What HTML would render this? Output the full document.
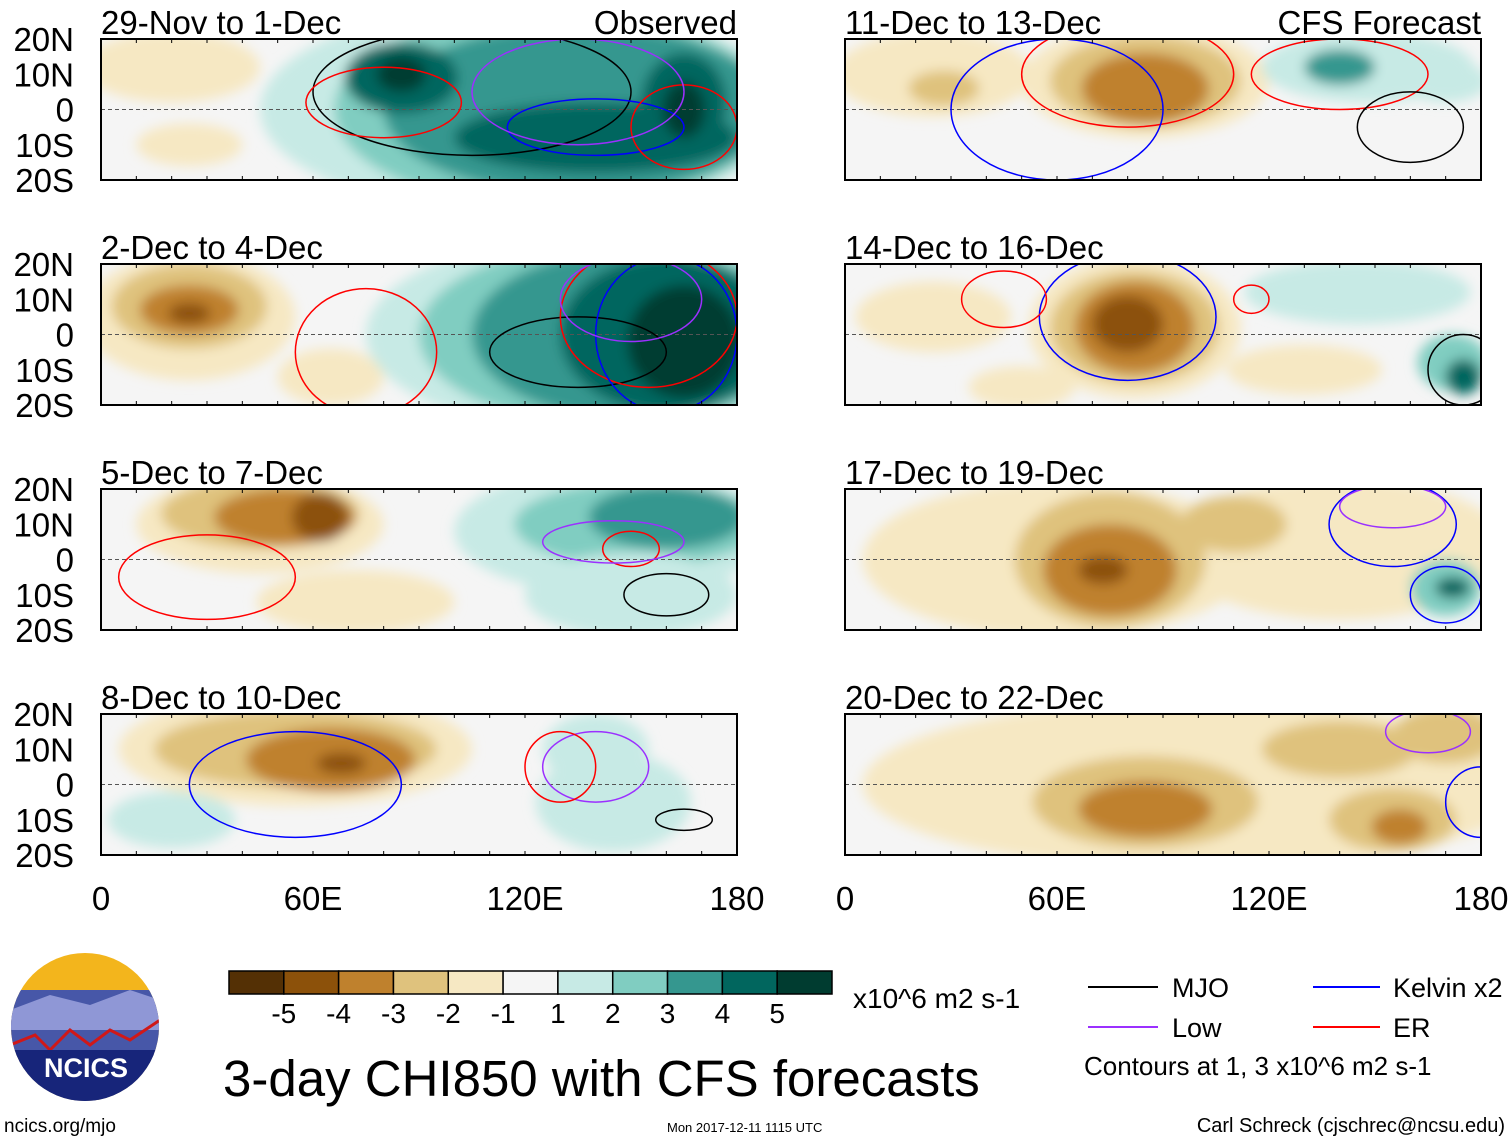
<!DOCTYPE html>
<html><head><meta charset="utf-8"><style>
html,body{margin:0;padding:0;background:#fff;}
body{width:1510px;height:1142px;overflow:hidden;font-family:"Liberation Sans",sans-serif;}
</style></head><body>
<svg id="fig" width="1510" height="1142" xmlns="http://www.w3.org/2000/svg" font-family="Liberation Sans, sans-serif">
<defs><filter id="blur" x="-20%" y="-20%" width="140%" height="140%"><feGaussianBlur stdDeviation="6"/></filter></defs>
</svg>
<script>
const levelColors = ["#543005","#8c510a","#bf812d","#dfc27d","#f6e8c3","#f5f5f5","#c7eae5","#80cdc1","#35978f","#01665e","#003c30"];
const levelLabels = ["-5","-4","-3","-2","-1","1","2","3","4","5"];
const panelTitles = ["29-Nov to 1-Dec","2-Dec to 4-Dec","5-Dec to 7-Dec","8-Dec to 10-Dec","11-Dec to 13-Dec","14-Dec to 16-Dec","17-Dec to 19-Dec","20-Dec to 22-Dec"];
const latTicks = [20,10,0,-10,-20];
const latLabels = ["20N","10N","0","10S","20S"];
const lonTicks = [0,60,120,180];
const lonLabels = ["0","60E","120E","180"];
// blobs: [lon, lat, rlon, rlat, levelIndex]
const blobs0 = [[20,12,25,10,4],[25,-10,15,6,4],[120,0,75,30,6],[128,0,62,28,7],[135,0,55,24,8],[85,9,16,10,9],[140,-8,40,10,9],[165,2,12,14,9],[165,0,6,8,10],[85,10,7,5,10]];
const blobs1 = [[25,5,30,18,4],[25,8,22,12,3],[25,7,14,7,2],[25,6,6,3,1],[65,-12,15,8,4],[140,0,65,28,6],[145,0,55,26,7],[150,0,45,24,8],[160,0,30,22,9],[165,-2,16,16,10]];
const blobs2 = [[45,10,35,14,4],[45,13,28,10,3],[52,12,20,8,2],[62,12,8,7,1],[72,-12,28,9,4],[145,8,45,18,6],[152,10,35,12,7],[160,12,22,9,8],[150,-10,30,12,6]];
const blobs3 = [[55,10,50,16,4],[55,10,40,11,3],[65,7,24,9,2],[68,6,7,3,1],[20,-10,18,8,6],[145,-5,22,14,6],[140,10,15,10,6]];
const blobs4 = [[25,10,28,12,4],[28,6,10,5,3],[85,8,35,16,4],[85,8,27,13,3],[85,6,18,10,2],[148,12,30,10,6],[140,12,10,5,8],[170,8,12,6,6]];
const blobs5 = [[25,5,22,10,4],[50,-15,15,6,4],[82,2,30,20,4],[82,2,24,16,3],[82,2,17,13,2],[80,3,10,8,1],[145,12,32,9,6],[172,-8,10,8,7],[175,-12,5,5,9],[130,-10,22,7,4]];
const blobs6 = [[60,0,55,22,4],[140,3,48,20,4],[75,0,27,19,3],[75,-3,19,13,2],[73,-3,7,4,1],[110,10,15,8,3],[170,-8,10,8,7],[172,-8,5,3,9]];
const blobs7 = [[100,0,95,24,4],[85,-5,32,13,3],[85,-7,19,8,2],[155,-10,18,9,3],[157,-12,8,5,2],[170,14,15,8,3],[140,10,22,8,3]];
const panelBlobs = [blobs0,blobs1,blobs2,blobs3,blobs4,blobs5,blobs6,blobs7];
// contours: [lon, lat, rlon, rlat, type]
const contourColors = {mjo:"#000",kelvin:"#0000ff",low:"#9b30ff",er:"#ff0000"};
const panelContours = [
 [[105,5,45,18,"mjo"],[80,2,22,10,"er"],[140,-5,25,8,"kelvin"],[165,-5,15,12,"er"],[135,5,30,15,"low"]],
 [[75,-5,20,18,"er"],[135,-5,25,10,"mjo"],[155,5,25,20,"er"],[160,0,20,22,"kelvin"],[150,10,20,12,"low"]],
 [[30,-5,25,12,"er"],[160,-10,12,6,"mjo"],[150,3,8,5,"er"],[145,5,20,6,"low"]],
 [[55,0,30,15,"kelvin"],[140,5,15,10,"low"],[130,5,10,10,"er"],[165,-10,8,3,"mjo"]],
 [[80,10,30,15,"er"],[140,10,25,10,"er"],[60,0,30,20,"kelvin"],[160,-5,15,10,"mjo"]],
 [[80,5,25,18,"kelvin"],[45,10,12,8,"er"],[115,10,5,4,"er"],[175,-10,10,10,"mjo"]],
 [[155,10,18,12,"kelvin"],[155,15,15,6,"low"],[170,-10,10,8,"kelvin"]],
 [[165,15,12,6,"low"],[180,-5,10,10,"kelvin"]]
];
const NS="http://www.w3.org/2000/svg";
const svg=document.getElementById('fig');
function mk(tag,attrs,parent){const e=document.createElementNS(NS,tag);for(const k in attrs)e.setAttribute(k,attrs[k]);(parent||svg).appendChild(e);return e;}
const panelW=636, panelH=141;
const lefts=[101,845], tops=[39,264,489,714];
panelTitles.forEach((t,i)=>{
  const col=Math.floor(i/4), row=i%4;
  const x0=lefts[col], y0=tops[row];
  const xs=lon=>x0+lon/180*panelW;
  const ys=lat=>y0+(20-lat)/40*panelH;
  const g=mk('g',{});
  
  
  const cp=mk('clipPath',{id:'c'+i},g);
  mk('rect',{x:x0,y:y0,width:panelW,height:panelH},cp);
  const inner=mk('g',{'clip-path':'url(#c'+i+')'},g);
  mk('rect',{x:x0,y:y0,width:panelW,height:panelH,fill:levelColors[5]},inner);
  const bg=mk('g',{filter:'url(#blur)'},inner);
  panelBlobs[i].forEach(b=>{
    const e=mk('ellipse',{cx:xs(b[0]),cy:ys(b[1]),rx:b[2]/180*panelW,ry:b[3]/40*panelH,fill:levelColors[b[4]]},bg);
    
    
  });
  mk('line',{x1:x0,x2:x0+panelW,y1:ys(0),y2:ys(0),stroke:'#555','stroke-dasharray':'4,3','stroke-width':1},inner);
  panelContours[i].forEach(c=>{
    const e=mk('ellipse',{cx:xs(c[0]),cy:ys(c[1]),rx:c[2]/180*panelW,ry:c[3]/40*panelH,fill:'none',stroke:contourColors[c[4]],'stroke-width':1.5},inner);
    
    
  });
  mk('rect',{x:x0,y:y0,width:panelW,height:panelH,fill:'none',stroke:'#000','stroke-width':2},g);
  for(let l=0;l<=180;l+=10){mk('line',{x1:xs(l),x2:xs(l),y1:y0,y2:y0+4,stroke:'#000'},g);mk('line',{x1:xs(l),x2:xs(l),y1:y0+panelH,y2:y0+panelH-4,stroke:'#000'},g);}
  const tt=mk('text',{x:x0,y:y0-5,'font-size':33,fill:'#000'},g);tt.textContent=t;
  
  
  if(i===0||i===4){const s=mk('text',{x:x0+panelW,y:y0-5,'font-size':33,'text-anchor':'end'},g);s.textContent=i===0?'Observed':'CFS Forecast';
    
    }
  if(col===0){latTicks.forEach((la,k)=>{const tx=mk('text',{x:74,y:ys(la)+12,'font-size':33,'text-anchor':'end'},g);tx.textContent=latLabels[k];
    
    });}
  if(row===3){lonTicks.forEach((lo,k)=>{const tx=mk('text',{x:xs(lo),y:910,'font-size':33,'text-anchor':'middle'},g);tx.textContent=lonLabels[k];
    
    });}
});
// colorbar
const cb=mk('g',{});


const cbx=229,cbw=603,cby=971,cbh=23,bw=cbw/levelColors.length;
levelColors.forEach((c,k)=>{mk('rect',{x:cbx+k*bw,y:cby,width:bw,height:cbh,fill:c,stroke:'#000','stroke-width':1.5},cb);});
levelLabels.forEach((l,k)=>{const t=mk('text',{x:cbx+(k+1)*bw,y:1023,'font-size':28,'text-anchor':'middle'},cb);t.textContent=l;});
const u=mk('text',{x:853,y:1008,'font-size':28},cb);u.textContent='x10^6 m2 s-1';
</script>
<svg width="1510" height="1142" style="position:absolute;left:0;top:0" font-family="Liberation Sans, sans-serif">
<g>
<clipPath id="lc"><circle cx="85" cy="1027" r="74"/></clipPath>
<g clip-path="url(#lc)">
<rect x="10" y="952" width="150" height="150" fill="#f3b51c"/>
<rect x="10" y="990" width="150" height="112" fill="#4757a8"/>
<polygon points="10,1010 50,995 90,1005 130,990 160,1000 160,1030 10,1030" fill="#8f97d6"/>
<polyline points="10,1045 35,1035 50,1050 70,1030 90,1045 110,1030 130,1040 160,1020" fill="none" stroke="#d01818" stroke-width="3"/>
<rect x="10" y="1050" width="150" height="52" fill="#17257a"/>
</g>
<text x="86" y="1077" font-size="27" font-weight="bold" fill="#fff" text-anchor="middle">NCICS</text>
</g>
<text x="4" y="1132" font-size="19">ncics.org/mjo</text>
<text x="223" y="1096" font-size="51">3-day CHI850 with CFS forecasts</text>
<text x="667" y="1132" font-size="13">Mon 2017-12-11 1115 UTC</text>
<g font-size="27">
<line x1="1088" y1="987" x2="1158" y2="987" stroke="#000" stroke-width="2"/><text x="1172" y="997">MJO</text>
<line x1="1313" y1="987" x2="1380" y2="987" stroke="#0000ff" stroke-width="2"/><text x="1393" y="997">Kelvin x2</text>
<line x1="1088" y1="1027" x2="1158" y2="1027" stroke="#9b30ff" stroke-width="2"/><text x="1172" y="1037">Low</text>
<line x1="1313" y1="1027" x2="1380" y2="1027" stroke="#ff0000" stroke-width="2"/><text x="1393" y="1037">ER</text>
<text x="1084" y="1075" font-size="26">Contours at 1, 3 x10^6 m2 s-1</text>
</g>
<text x="1505" y="1132" font-size="20" text-anchor="end">Carl Schreck (cjschrec@ncsu.edu)</text>
</svg>
</body></html>
